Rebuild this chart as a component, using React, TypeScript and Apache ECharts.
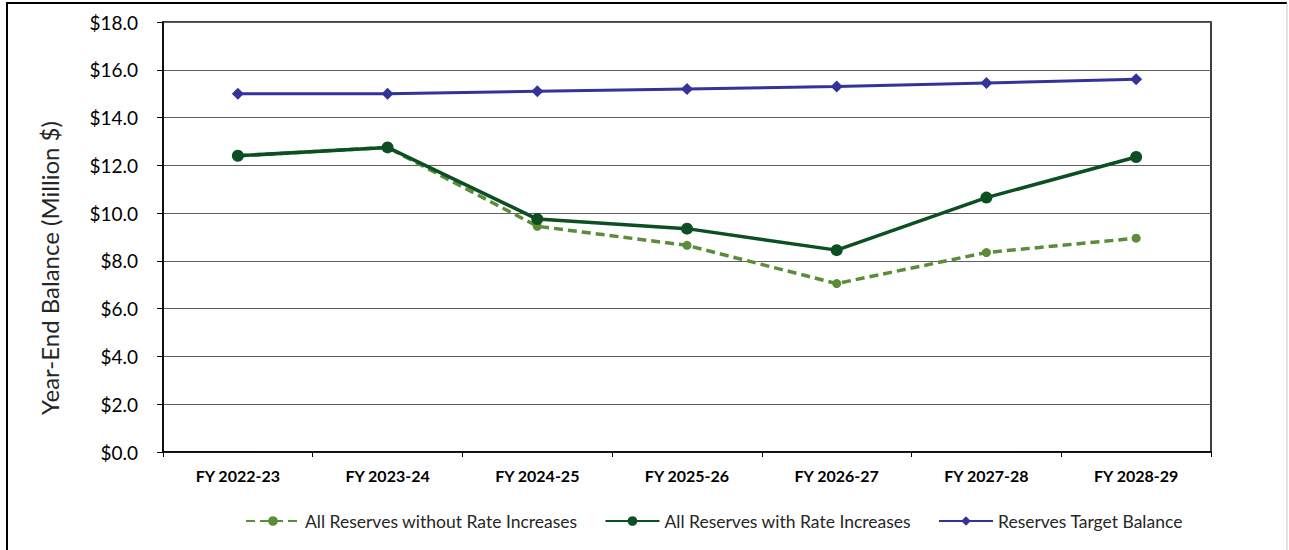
import React, { useEffect, useRef } from "react";
import * as echarts from "echarts";

const categories = ["FY 2022-23", "FY 2023-24", "FY 2024-25", "FY 2025-26", "FY 2026-27", "FY 2027-28", "FY 2028-29"];
const withoutRateIncreases = [12.4, 12.75, 9.45, 8.65, 7.05, 8.35, 8.95];
const withRateIncreases = [12.4, 12.75, 9.75, 9.35, 8.45, 10.65, 12.35];
const targetBalance = [15.0, 15.0, 15.1, 15.2, 15.3, 15.45, 15.6];

const FONT = "Lato, 'Open Sans', sans-serif";

export default function App() {
  const ref = useRef<HTMLDivElement>(null);

  useEffect(() => {
    if (!ref.current) return;
    const chart = echarts.init(ref.current, undefined, { renderer: "svg" });
    chart.setOption({
      animation: false,
      backgroundColor: "#ffffff",
      textStyle: { fontFamily: FONT },
      grid: {
        left: 163,
        right: 78,
        top: 22,
        bottom: 98,
        show: true,
        borderColor: "#000000",
        borderWidth: 1.5,
        backgroundColor: "transparent",
      },
      legend: {
        bottom: 15,
        left: 240,
        itemWidth: 54,
        itemHeight: 12,
        itemGap: 27,
        textStyle: { fontFamily: FONT, fontSize: 17.5, color: "#262626" },
        data: [
          "All Reserves without Rate Increases",
          "All Reserves with Rate Increases",
          "Reserves Target Balance",
        ],
      },
      xAxis: {
        type: "category",
        data: categories,
        boundaryGap: true,
        axisLine: { show: true, lineStyle: { color: "#000000", width: 1.5 } },
        axisTick: { show: true, alignWithLabel: false, length: 5, lineStyle: { color: "#000000", width: 1 } },
        axisLabel: { fontFamily: FONT, fontSize: 16, fontWeight: "bold", color: "#000000", margin: 15 },
        splitLine: { show: false },
      },
      yAxis: {
        type: "value",
        min: 0,
        max: 18,
        interval: 2,
        axisLine: { show: true, lineStyle: { color: "#000000", width: 1.5 } },
        axisTick: { show: true, inside: false, length: 6, lineStyle: { color: "#000000", width: 1 } },
        axisLabel: {
          fontFamily: FONT,
          fontSize: 19,
          color: "#000000",
          margin: 25,
          formatter: (v: number) => "$" + v.toFixed(1),
        },
        splitLine: { show: true, lineStyle: { color: "#5f5f5f", width: 1 } },
      },
      series: [
        {
          name: "All Reserves without Rate Increases",
          type: "line",
          data: withoutRateIncreases,
          symbol: "circle",
          symbolSize: 9,
          itemStyle: { color: "#5b8c38" },
          lineStyle: { color: "#5b8c38", width: 3.5, type: [9, 5] },
        },
        {
          name: "All Reserves with Rate Increases",
          type: "line",
          data: withRateIncreases,
          symbol: "circle",
          symbolSize: 12,
          itemStyle: { color: "#0c4f22" },
          lineStyle: { color: "#0c4f22", width: 3.5 },
        },
        {
          name: "Reserves Target Balance",
          type: "line",
          data: targetBalance,
          symbol: "diamond",
          symbolSize: 12,
          itemStyle: { color: "#333399" },
          lineStyle: { color: "#333399", width: 3 },
        },
      ],
      graphic: [
        // vertical axis title
        {
          type: "text",
          x: 49,
          y: 268,
          rotation: Math.PI / 2,
          style: {
            text: "Year-End Balance (Million $)",
            fontFamily: FONT,
            fontSize: 24,
            fill: "#262626",
            align: "center",
            verticalAlign: "middle",
          },
        },
        // outer frame
        { type: "line", shape: { x1: 6, y1: 3, x2: 1287, y2: 3 }, style: { stroke: "#000000", lineWidth: 2 } },
        { type: "line", shape: { x1: 7, y1: 3, x2: 7, y2: 550 }, style: { stroke: "#000000", lineWidth: 2 } },
        { type: "line", shape: { x1: 1287, y1: 3, x2: 1287, y2: 550 }, style: { stroke: "#c8c8c8", lineWidth: 1 } },
      ],
    });
    return () => chart.dispose();
  }, []);

  return (
    <div
      ref={ref}
      style={{ position: "fixed", left: 0, top: 0, width: 1289, height: 550 }}
    />
  );
}
